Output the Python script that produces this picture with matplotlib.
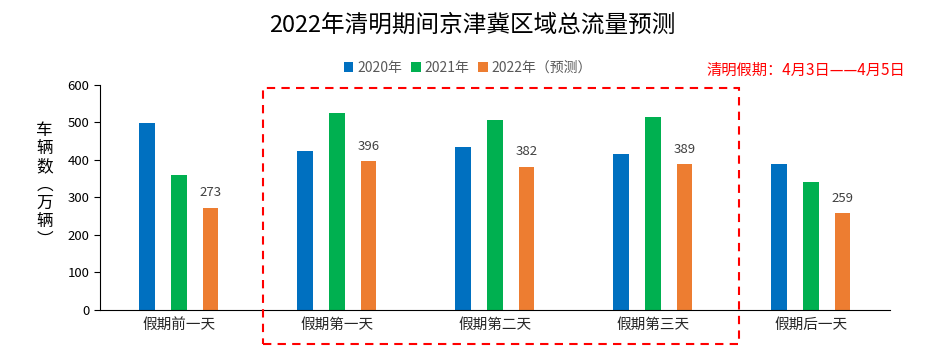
import numpy as np
import matplotlib
matplotlib.use("Agg")
import matplotlib.pyplot as plt
from matplotlib.patches import Rectangle

plt.rcParams['font.family'] = ['Noto Sans CJK SC', 'DejaVu Sans']

# 数据
categories = ['假期前一天', '假期第一天', '假期第二天', '假期第三天', '假期后一天']
series_names = ['2020年', '2021年', '2022年（预测）']
v2020 = [499, 424, 435, 416, 389]
v2021 = [360, 525, 507, 515, 341]
v2022 = [273, 396, 382, 389, 259]
colors = ['#0070C0', '#00B050', '#ED7D31']

fig = plt.figure(figsize=(9.45, 3.55), dpi=100)
ax = fig.add_axes([0.1058, 0.1268, 0.836, 0.6338])

x = np.arange(len(categories))
w = 0.1
off = 0.2
for i, vals in enumerate([v2020, v2021, v2022]):
    ax.bar(x + (i - 1) * off, vals, width=w, color=colors[i], label=series_names[i])

# 2022 数值标签
for xi, v in zip(x, v2022):
    ax.text(xi + off, v + 22, str(v), ha='center', va='bottom', fontsize=9.5, color='#404040')

ax.set_xlim(-0.5, len(categories) - 0.5)
ax.set_ylim(0, 600)
ax.set_yticks(range(0, 601, 100))
ax.set_xticks(x)
ax.set_xticklabels(categories, fontsize=10.5, color='#262626')
ax.tick_params(axis='x', length=0, pad=6)
ax.tick_params(axis='y', labelsize=9.5, length=4, direction='out', colors='black')
for s in ['top', 'right']:
    ax.spines[s].set_visible(False)

# 节假日虚线框
fig.add_artist(Rectangle((263 / 945, 1 - 344 / 355), (739 - 263) / 945, (344 - 88) / 355,
                         transform=fig.transFigure, fill=False, edgecolor='#FF0000',
                         linestyle=(0, (4, 3)), linewidth=1.5))

fig.text(0.5, 1 - 25 / 355, '2022年清明期间京津冀区域总流量预测', ha='center', va='center', fontsize=17)
fig.text(0.047, 1 - 185 / 355, '\n'.join('车辆数︵万辆︶'), ha='center', va='center',
         fontsize=12, linespacing=1.1)
fig.text(1 - 40 / 945, 1 - 70 / 355, '清明假期：4月3日——4月5日', ha='right', va='center',
         fontsize=11, color='#FF0000')

leg = fig.legend(loc='center', bbox_to_anchor=(468 / 945, 1 - 68 / 355), ncol=3, frameon=False,
                 fontsize=10, handlelength=0.7, handleheight=0.7, handletextpad=0.3, columnspacing=0.6)
for t in leg.get_texts():
    t.set_color('#595959')

fig.savefig('out.png', dpi=100)
